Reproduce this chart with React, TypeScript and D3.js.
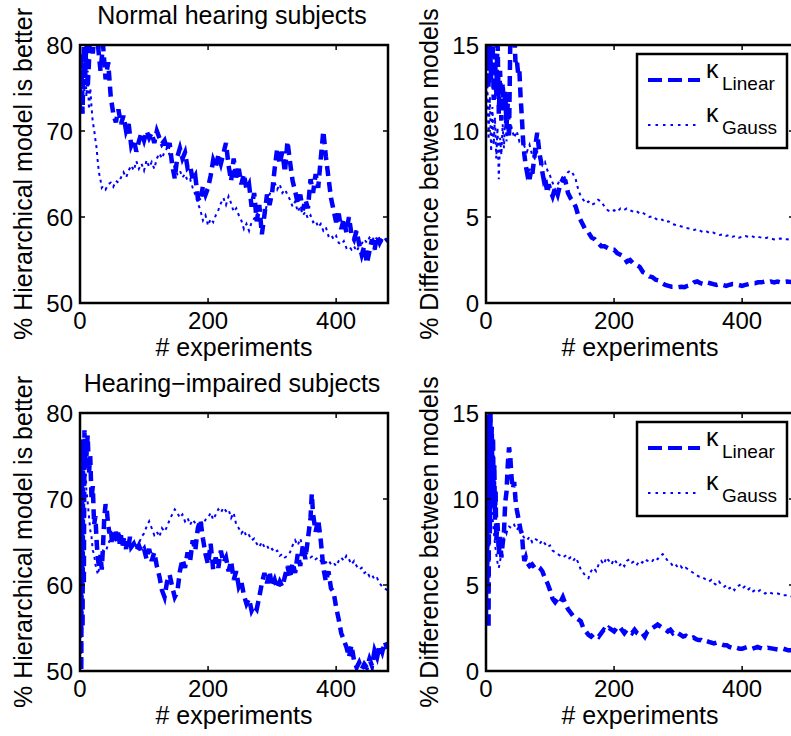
import React from 'react';
import * as d3 from 'd3';

const nhPctDashed: [number, number][] = [[0,74],[2,79],[4,72],[6,80],[8,76],[10,81],[12,75],[14,78],[16,82],[20,79],[24,83],[28,80],[32,77],[36,80],[40,76],[44,78],[48,74],[52,72],[56,71],[60,72.5],[64,70.8],[68,71.8],[72,70],[76,70.8],[80,68.3],[84,69],[88,67.6],[92,68.8],[96,69.8],[100,68.9],[104,70],[108,69.2],[112,69.8],[116,68.6],[120,70],[124,69.2],[128,68.5],[132,68.9],[136,67.8],[140,68.6],[144,66],[148,64.5],[152,67],[156,68],[160,66.8],[164,67.5],[168,65.7],[172,66],[176,64.3],[180,64.8],[184,62.2],[188,61.8],[192,63.6],[196,62.6],[200,63.4],[204,64.8],[208,66.6],[212,65.8],[216,67.2],[220,66.2],[224,67.4],[228,68.6],[232,66],[236,64.2],[240,66.8],[244,64.6],[248,65.6],[252,63.8],[256,65],[260,63.2],[264,63.8],[268,61.2],[272,62.8],[276,59.5],[280,61.4],[284,58],[288,60.2],[292,62.6],[296,61.4],[300,62.8],[304,65.6],[308,68],[312,66.2],[316,67.6],[320,65.2],[324,68.8],[328,66.4],[332,64.2],[336,63],[340,61.6],[344,62.6],[348,60.8],[352,62],[356,61],[360,64.4],[364,62.8],[368,65],[372,63.4],[376,66.8],[380,70],[384,67],[388,64.6],[392,62.2],[396,60.8],[400,59.4],[404,60.4],[408,58.6],[412,59.8],[416,58.2],[420,60],[424,58],[428,57.4],[432,58.4],[436,56.8],[440,55.6],[444,56.6],[448,54.6],[452,56],[456,57.4],[460,56.2],[464,57.8],[468,57],[472,57.6],[476,57.2],[480,57.4]];
const nhPctDotted: [number, number][] = [[0,78],[2,72],[4,76],[6,73],[8,79],[10,74],[12,77],[14,72.5],[16,75],[18,72.8],[20,71],[22,70.2],[24,69],[26,68],[28,66.2],[30,65],[32,64.3],[34,63.4],[36,63.6],[40,63.2],[44,63.8],[48,64],[52,63.5],[56,64.2],[60,64],[64,64.6],[68,65.2],[72,64.6],[76,65.4],[80,66],[84,65.4],[88,66.5],[92,65.6],[96,66.2],[100,65.4],[104,66.6],[108,65.8],[112,66.4],[116,65.6],[120,66.8],[124,67.4],[128,66.8],[132,67.6],[136,68],[140,67.2],[144,66.8],[148,65.6],[152,65],[156,65.4],[160,64.6],[164,65],[168,64.2],[172,64.4],[176,63.4],[180,62.6],[184,61.6],[188,60.8],[192,59.6],[196,60.2],[200,59],[204,59.8],[208,59.4],[212,60.2],[216,60.8],[220,61.6],[224,62.2],[228,61.4],[232,62.4],[236,61.6],[240,60.6],[244,61],[248,60.2],[252,59.6],[256,58.6],[260,59.2],[264,58.4],[268,59.4],[272,59.8],[276,60.4],[280,60.2],[284,61],[288,60.4],[292,61.4],[296,62.6],[300,63.4],[304,64],[308,63.2],[312,63.8],[316,62.8],[320,63.2],[324,62.6],[328,62],[332,61.2],[336,61.8],[340,60.6],[344,61.2],[348,60.2],[352,60.6],[356,59.8],[360,60.2],[364,59.4],[368,59.6],[372,58.8],[376,59.2],[380,58.4],[384,58.8],[388,57.8],[392,58],[396,57.4],[400,57.8],[404,57],[408,56.8],[412,57.2],[416,56.4],[420,56.6],[424,56.2],[428,56.6],[432,56],[436,56.6],[440,56.9],[444,57.4],[448,57],[452,57.6],[456,57.2],[460,57.8],[464,57.4],[468,57.6],[472,57.2],[476,57.5],[480,57.2]];

const nhDiffLinear: [number, number][] = [[0,14.2],[2,16],[4,12.5],[6,15.5],[8,13],[10,16],[12,11.8],[14,14.5],[16,12],[18,15.5],[20,11],[22,13.5],[24,10.6],[26,12.8],[28,11.2],[30,12.4],[32,10.2],[34,11.6],[36,9.6],[38,15.5],[40,16],[42,15.2],[44,16],[46,14],[48,14.2],[50,13.4],[52,13.6],[54,12],[56,10.8],[58,9.4],[60,8.6],[62,8],[64,7.6],[66,7.8],[68,7.2],[70,7.6],[72,7.4],[74,8],[76,8.6],[78,9.4],[80,9.9],[82,9.2],[84,8.6],[86,8.2],[88,7.6],[90,7.2],[92,7.4],[94,6.8],[96,6.4],[98,6.9],[100,6.6],[104,6.2],[108,6.7],[112,6.3],[116,6.9],[120,7.2],[124,7.1],[128,6.4],[132,6.1],[136,5.9],[140,5.6],[144,5.1],[148,4.8],[152,4.5],[156,4.2],[160,4.1],[165,3.8],[170,3.7],[175,3.5],[180,3.3],[185,3.3],[190,3.2],[195,3.1],[200,3.1],[205,2.9],[210,2.8],[215,2.7],[220,2.4],[225,2.5],[230,2.3],[235,2.2],[240,2.1],[245,1.8],[250,1.7],[255,1.55],[260,1.5],[265,1.35],[270,1.3],[275,1.15],[280,1.05],[285,1.0],[290,0.95],[295,0.95],[300,0.92],[305,0.95],[310,0.92],[315,1.0],[320,1.05],[325,1.2],[330,1.25],[335,1.15],[340,1.1],[345,1.2],[350,1.15],[355,1.1],[360,1.05],[365,1.1],[370,1.05],[375,1.0],[380,1.05],[385,1.1],[390,1.1],[395,1.05],[400,1.0],[405,1.05],[410,1.1],[415,1.15],[420,1.15],[425,1.2],[430,1.2],[435,1.25],[440,1.2],[445,1.25],[450,1.2],[455,1.25],[460,1.2],[470,1.25],[480,1.2]];
const nhDiffGauss: [number, number][] = [[0,10.5],[2,13],[4,9.5],[6,12],[8,8.8],[10,11.4],[12,9.2],[14,10.8],[16,8.4],[18,10.2],[20,7.2],[22,9.6],[24,8.6],[26,10.4],[28,9],[30,11],[32,9.4],[34,10.6],[36,9.8],[40,10.2],[44,9.6],[48,10],[52,9.4],[56,9.6],[60,9.1],[64,8.8],[68,9.2],[72,8.6],[76,8.4],[80,8.8],[84,8.4],[88,8.0],[92,8.2],[96,7.7],[100,7.4],[104,7.0],[108,6.6],[112,6.9],[116,7.2],[120,7.0],[124,7.4],[128,7.6],[132,7.7],[136,7.5],[140,7.2],[144,6.6],[148,6.2],[152,6.0],[156,5.8],[160,5.9],[165,5.7],[170,5.8],[175,6.0],[180,5.9],[185,5.6],[190,5.4],[195,5.3],[200,5.4],[205,5.3],[210,5.5],[215,5.4],[220,5.5],[225,5.4],[230,5.3],[235,5.35],[240,5.2],[245,5.25],[250,5.1],[255,5.0],[260,5.05],[265,4.9],[270,4.8],[275,4.85],[280,4.7],[285,4.75],[290,4.6],[295,4.55],[300,4.5],[305,4.45],[310,4.4],[315,4.35],[320,4.3],[325,4.25],[330,4.3],[335,4.2],[340,4.1],[345,4.15],[350,4.05],[355,4.1],[360,4.0],[365,3.95],[370,4.0],[375,3.9],[380,3.95],[385,3.85],[390,3.9],[395,3.8],[400,3.85],[405,3.9],[410,3.85],[415,3.9],[420,3.8],[425,3.85],[430,3.8],[435,3.75],[440,3.8],[450,3.7],[460,3.75],[470,3.7],[480,3.65]];

const hiPctDashed: [number, number][] = [[0,52],[1,76],[2,50],[3,72],[4,55],[5,77],[6,60],[7,78],[8,74],[9,77],[10,75],[12,77.4],[14,73],[16,75],[18,70],[20,71.5],[22,67],[24,68],[26,65],[28,63],[30,62],[32,63.5],[34,61.8],[36,64.6],[38,68],[40,69.4],[42,68.6],[44,67],[46,66],[48,66.6],[50,65],[52,66],[54,64.8],[56,66.2],[58,65.2],[60,66.4],[62,64.8],[64,65.8],[66,64.4],[68,65.4],[70,64.8],[72,64.2],[74,65.2],[76,64.6],[78,65.6],[80,64.4],[84,64.8],[88,64],[92,64.6],[96,63.8],[100,64.2],[104,63],[108,64.2],[112,62.8],[116,63.8],[120,62.2],[124,61],[128,59.4],[132,58.6],[136,60.4],[140,61.2],[144,59.8],[148,58.6],[152,59.2],[156,61.6],[160,63],[164,62],[168,63.8],[172,62.8],[176,65.2],[180,64],[184,66.6],[188,67.6],[192,65.4],[196,63.6],[200,62.4],[204,64.8],[208,61.8],[212,63.2],[216,62],[220,64],[224,62.6],[228,63.2],[232,61.6],[236,62.8],[240,60.6],[244,61.6],[248,59.8],[252,60.4],[256,58.8],[260,57.8],[264,58.4],[268,57],[272,57.6],[276,57.2],[280,58.6],[284,60.2],[288,61.4],[292,60.2],[296,61.6],[300,59.8],[304,60.6],[308,59.6],[312,60.4],[316,59.8],[320,61],[324,62.2],[328,60.8],[332,62.6],[336,61.4],[340,63.6],[344,62.2],[348,64.6],[352,63],[356,65.4],[360,67.8],[362,70.6],[364,68.2],[368,66.2],[372,67.6],[376,65.2],[380,62],[384,60.4],[388,61.6],[392,59.6],[396,59.2],[400,57.4],[404,56],[408,54.4],[412,53.6],[416,52.8],[420,51.6],[424,53],[428,51.2],[432,50.4],[436,51],[440,50.2],[444,50.8],[448,50.4],[452,51.4],[456,50.6],[460,52.4],[464,51.6],[468,53],[472,52.2],[476,53.4],[480,52.6]];
const hiPctDotted: [number, number][] = [[0,70],[1,58],[2,74],[3,62],[4,76],[6,73],[8,75],[10,71],[12,69.6],[14,68],[16,66.4],[18,65.6],[20,64],[22,63.6],[24,62.4],[26,61.8],[28,61.2],[30,62],[32,62.6],[34,63.6],[36,64],[40,63.8],[44,64.8],[48,65.4],[52,65.8],[56,65.2],[60,65.6],[64,65],[68,64.8],[72,65.2],[76,64.6],[80,64.8],[84,64.2],[88,64.6],[92,64.8],[96,65.6],[100,66],[104,66.8],[108,67.4],[112,66.6],[116,65.8],[120,66.2],[124,65.6],[128,66.6],[132,66.2],[136,66.8],[140,67.6],[144,68.2],[148,68.8],[152,68.4],[156,67.8],[160,68.2],[164,67.4],[168,67.8],[172,67],[176,67.6],[180,67.2],[184,66.8],[188,67.4],[192,67],[196,67.6],[200,67.8],[204,68.4],[208,67.6],[212,68.2],[216,68.8],[220,68.4],[224,69],[228,68.6],[232,68.8],[236,67.8],[240,68.4],[244,67],[248,66.6],[252,66],[256,66.4],[260,65.6],[264,65.8],[268,65.2],[272,65.4],[276,64.8],[280,64.4],[284,65],[288,64.4],[292,64.6],[296,64],[300,64.2],[304,63.8],[308,64],[312,63.4],[316,63.6],[320,63.2],[324,63.4],[328,63.8],[332,64.6],[336,65.2],[340,64.6],[344,65.4],[348,64.4],[352,63.8],[356,63.6],[360,63.2],[364,63.4],[368,63],[372,63.2],[376,62.8],[380,63],[384,62.6],[388,62.9],[392,62.4],[396,62.6],[400,62.2],[404,62.8],[408,63.2],[412,62.8],[416,63.4],[420,63],[424,62.4],[428,62.8],[432,62.2],[436,61.8],[440,62],[444,61.4],[448,61.6],[452,61],[456,61.2],[460,60.6],[464,60.8],[468,60.2],[472,59.8],[476,59.6],[480,59.4]];

const hiDiffLinear: [number, number][] = [[0,3],[1,15],[2,5],[3,14.5],[4,2.5],[5,13.5],[6,8],[7,15],[8,12.5],[9,14.2],[10,11],[11,13.6],[12,9.6],[13,12],[14,8.8],[15,10.5],[16,7.6],[18,8.6],[20,6.8],[22,7.8],[24,6.6],[26,7.4],[28,8],[30,9.8],[32,10.4],[34,12],[36,13],[38,12.4],[40,11.2],[42,10.6],[44,11],[46,10],[48,9.4],[50,9],[52,8.6],[54,8.2],[56,8],[58,7],[60,6.4],[62,6.6],[64,6.3],[68,6.1],[72,6.2],[76,6.0],[80,6.1],[84,6.0],[88,5.8],[92,5.4],[96,5.1],[100,4.7],[104,4.2],[108,4.0],[112,4.2],[116,4.0],[120,4.3],[124,3.9],[128,3.6],[132,3.4],[136,3.2],[140,3.1],[144,3.0],[148,2.9],[152,2.5],[156,2.3],[160,2.1],[164,2.0],[168,2.15],[172,2.1],[176,2.0],[180,2.2],[184,2.4],[188,2.3],[192,2.5],[196,2.4],[200,2.3],[204,2.5],[208,2.6],[212,2.4],[216,2.2],[220,2.4],[224,2.3],[228,2.2],[232,2.4],[236,2.2],[240,2.1],[244,2.2],[248,2.0],[252,2.3],[256,2.4],[260,2.5],[264,2.6],[268,2.7],[272,2.6],[276,2.5],[280,2.4],[284,2.3],[288,2.4],[292,2.2],[296,2.3],[300,2.2],[304,2.1],[308,2.0],[312,2.05],[316,1.95],[320,1.9],[324,1.95],[328,1.85],[332,1.8],[336,1.8],[340,1.7],[344,1.75],[348,1.7],[352,1.65],[356,1.6],[360,1.65],[364,1.6],[368,1.55],[372,1.5],[376,1.5],[380,1.4],[384,1.35],[388,1.3],[392,1.35],[396,1.3],[400,1.3],[404,1.35],[408,1.4],[412,1.35],[416,1.3],[420,1.35],[424,1.4],[428,1.35],[432,1.3],[436,1.3],[440,1.35],[448,1.3],[456,1.25],[464,1.3],[472,1.2],[480,1.2]];
const hiDiffGauss: [number, number][] = [[0,10],[1,13.5],[2,9],[3,12.5],[4,9.6],[5,11.8],[6,9.2],[8,10.4],[10,9],[12,8.2],[14,7.4],[16,6.8],[18,6.3],[20,6.0],[22,6.4],[24,6.8],[26,7.4],[28,7.8],[30,8.2],[32,8.0],[34,8.3],[36,8.4],[40,8.3],[44,8.5],[48,8.2],[52,8.4],[56,8.0],[60,7.7],[64,7.6],[68,7.8],[72,7.5],[76,7.7],[80,7.6],[84,7.4],[88,7.6],[92,7.4],[96,7.2],[100,7.3],[104,7.0],[108,6.9],[112,6.8],[116,6.7],[120,6.6],[124,6.7],[128,6.5],[132,6.6],[136,6.4],[140,6.6],[144,6.3],[148,5.9],[152,5.7],[156,5.5],[160,5.4],[164,5.8],[168,6.0],[172,5.8],[176,6.2],[180,6.4],[184,6.2],[188,6.6],[192,6.4],[196,6.2],[200,6.5],[204,6.3],[208,6.1],[212,6.3],[216,6.1],[220,6.4],[224,6.5],[228,6.3],[232,6.4],[236,6.2],[240,6.4],[244,6.3],[248,6.5],[252,6.4],[256,6.5],[260,6.4],[264,6.6],[268,6.5],[272,6.7],[276,6.8],[280,6.6],[284,6.4],[288,6.3],[292,6.1],[296,6.2],[300,6.0],[304,6.1],[308,5.9],[312,6.0],[316,5.9],[320,5.8],[324,5.7],[328,5.6],[332,5.5],[336,5.5],[340,5.4],[344,5.3],[348,5.2],[352,5.3],[356,5.1],[360,5.0],[364,5.2],[368,5.0],[372,4.9],[376,5.0],[380,4.8],[384,4.9],[388,4.7],[392,4.9],[396,5.0],[400,4.8],[404,4.9],[408,4.7],[412,4.8],[416,4.6],[420,4.7],[424,4.6],[428,4.7],[432,4.6],[436,4.5],[440,4.6],[448,4.5],[456,4.5],[464,4.4],[472,4.4],[480,4.3]];

const xTicks = [0, 200, 400];
const pctTicks = [50, 60, 70, 80];
const diffTicks = [0, 5, 10, 15];

const FONT = '"Liberation Sans", Arial, Helvetica, sans-serif';
const BLUE = '#0000ff';

interface PanelProps {
  id: string;
  x0: number;
  y0: number;
  title?: string;
  ylabel: string;
  yDomain: [number, number];
  yTicks: number[];
  dashed: [number, number][];
  dotted: [number, number][];
  legend?: boolean;
}

function Panel({ id, x0, y0, title, ylabel, yDomain, yTicks, dashed, dotted, legend }: PanelProps) {
  const w = 308, h = 258;
  const x = d3.scaleLinear().domain([0, 481]).range([x0, x0 + w]);
  const y = d3.scaleLinear().domain(yDomain).range([y0 + h, y0]);
  const line = d3.line<[number, number]>().x(d => x(d[0])).y(d => y(d[1]));
  const tl = 5;

  return (
    <g>
      <defs>
        <clipPath id={id}>
          <rect x={x0} y={y0} width={w} height={h} />
        </clipPath>
      </defs>
      <g clipPath={`url(#${id})`}>
        <path d={line(dotted) || ''} fill="none" stroke={BLUE} strokeWidth={2} strokeDasharray="3 4" />
        <path d={line(dashed) || ''} fill="none" stroke={BLUE} strokeWidth={4.5} strokeDasharray="10 6" />
      </g>
      {/* inward ticks, all four sides */}
      {xTicks.map(t => (
        <g key={'xt' + t}>
          <line x1={x(t)} x2={x(t)} y1={y0 + h} y2={y0 + h - tl} stroke="#000" strokeWidth={1.5} />
          <line x1={x(t)} x2={x(t)} y1={y0} y2={y0 + tl} stroke="#000" strokeWidth={1.5} />
          <text x={x(t)} y={y0 + h + 26} textAnchor="middle" fontSize={24}>{t}</text>
        </g>
      ))}
      {yTicks.map(t => (
        <g key={'yt' + t}>
          <line x1={x0} x2={x0 + tl} y1={y(t)} y2={y(t)} stroke="#000" strokeWidth={1.5} />
          <line x1={x0 + w} x2={x0 + w - tl} y1={y(t)} y2={y(t)} stroke="#000" strokeWidth={1.5} />
          <text x={x0 - 7} y={y(t)} dy="0.36em" textAnchor="end" fontSize={24}>{t}</text>
        </g>
      ))}
      <rect x={x0} y={y0} width={w} height={h} fill="none" stroke="#000" strokeWidth={2.5} />
      <text x={x0 + w / 2} y={y0 + h + 53} textAnchor="middle" fontSize={25}># experiments</text>
      <text transform={`translate(${x0 - 48},${y0 + h / 2}) rotate(-90)`} textAnchor="middle" fontSize={25}>{ylabel}</text>
      {title && (
        <text x={x0 + w / 2 - 2} y={y0 - 21} textAnchor="middle" fontSize={25}>{title}</text>
      )}
      {legend && (
        <g>
          <rect x={x0 + 151} y={y0 + 9} width={150} height={94} fill="#fff" stroke="#000" strokeWidth={2.5} />
          <line x1={x0 + 162} x2={x0 + 214} y1={y0 + 35} y2={y0 + 35} stroke={BLUE} strokeWidth={4} strokeDasharray="14 6" />
          <text x={x0 + 220} y={y0 + 33} fontSize={25}>κ</text>
          <text x={x0 + 236} y={y0 + 45} fontSize={19}>Linear</text>
          <line x1={x0 + 162} x2={x0 + 214} y1={y0 + 80} y2={y0 + 80} stroke={BLUE} strokeWidth={2} strokeDasharray="2.5 5" />
          <text x={x0 + 220} y={y0 + 77} fontSize={25}>κ</text>
          <text x={x0 + 236} y={y0 + 89} fontSize={19}>Gauss</text>
        </g>
      )}
    </g>
  );
}

export default function App() {
  return (
    <svg width={791} height={736} style={{ position: 'absolute', left: 0, top: 0, background: '#fff' }} fontFamily={FONT}>
      <rect width={791} height={736} fill="#fff" />
      <Panel id="c1" x0={80} y0={45} title="Normal hearing subjects" ylabel="% Hierarchical model is better"
        yDomain={[50, 80]} yTicks={pctTicks} dashed={nhPctDashed} dotted={nhPctDotted} />
      <Panel id="c2" x0={486} y0={45} ylabel="% Difference between models"
        yDomain={[0, 15]} yTicks={diffTicks} dashed={nhDiffLinear} dotted={nhDiffGauss} legend />
      <Panel id="c3" x0={80} y0={413} title="Hearing−impaired subjects" ylabel="% Hierarchical model is better"
        yDomain={[50, 80]} yTicks={pctTicks} dashed={hiPctDashed} dotted={hiPctDotted} />
      <Panel id="c4" x0={486} y0={413} ylabel="% Difference between models"
        yDomain={[0, 15]} yTicks={diffTicks} dashed={hiDiffLinear} dotted={hiDiffGauss} legend />
    </svg>
  );
}
